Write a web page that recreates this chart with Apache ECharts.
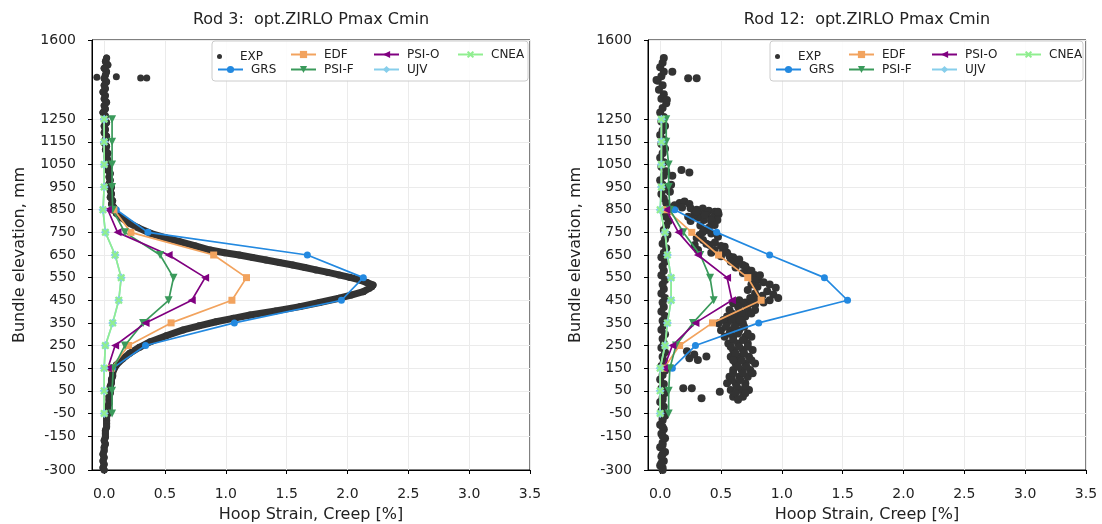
<!DOCTYPE html>
<html><head><meta charset="utf-8">
<script src="https://cdn.jsdelivr.net/npm/echarts@6/dist/echarts.min.js"></script>
<style>html,body{margin:0;padding:0;background:#fff}#c{width:1102px;height:524px}</style>
</head><body><div id="c"></div>
<script>
// ---------- DATA ----------
const titles = ['Rod 3:  opt.ZIRLO Pmax Cmin', 'Rod 12:  opt.ZIRLO Pmax Cmin'];
const xName = 'Hoop Strain, Creep [%]';
const yName = 'Bundle elevation, mm';
const xTicks = [0, 0.5, 1, 1.5, 2, 2.5, 3, 3.5];
const yTicks = [-300, -150, -50, 50, 150, 250, 350, 450, 550, 650, 750, 850, 950, 1050, 1150, 1250, 1600];
const seriesNames = ['EXP', 'GRS', 'EDF', 'PSI-F', 'PSI-O', 'UJV', 'CNEA'];

const fullElev = [-50, 50, 150, 250, 350, 450, 550, 650, 750, 850, 950, 1050, 1150, 1250];
const coreElev = [150, 250, 350, 450, 550, 650, 750, 850];

// Rod 3
const rod3GRS  = [0.07, 0.34, 1.07, 1.95, 2.13, 1.67, 0.36, 0.10];
const rod3EDF  = [0.06, 0.20, 0.55, 1.05, 1.17, 0.90, 0.22, 0.08];
const rod3PSIO = [0.03, 0.09, 0.34, 0.72, 0.83, 0.53, 0.11, 0.03];
const rod3PSIF = [0.065, 0.065, 0.075, 0.17, 0.32, 0.53, 0.57, 0.46, 0.17, 0.07, 0.065, 0.065, 0.065, 0.065];
const rod3UJV  = [0.0, 0.0, 0.0, 0.01, 0.07, 0.12, 0.14, 0.09, 0.01, -0.01, 0.0, 0.0, 0.0, 0.0];
const rod3CNEA = [0.0, 0.0, 0.0, 0.01, 0.07, 0.12, 0.14, 0.09, 0.01, -0.01, 0.0, 0.0, 0.0, 0.0];
const rod3ExpCurve = [
 [0.02,1520],[0.01,1505],[0.03,1490],[0.0,1475],[0.02,1460],[0.01,1445],[0.0,1430],[0.02,1415],[0.0,1400],[0.01,1385],
 [-0.01,1370],[0.01,1355],[0.0,1340],[0.02,1325],[0.0,1310],[0.01,1295],[-0.01,1280],[0.01,1265],[0.0,1250],[0.02,1235],
 [0.0,1220],[0.01,1205],[0.0,1190],[0.02,1175],[0.01,1160],[0.0,1145],[0.02,1130],[0.01,1115],[0.03,1100],[0.02,1085],
 [0.03,1070],[0.02,1055],[0.04,1040],[0.03,1025],[0.05,1010],[0.04,995],[0.05,980],[0.04,965],[0.06,950],[0.05,935],
 [0.06,920],[0.05,905],[0.07,890],[0.06,875],[0.08,860],[0.09,845],
 [0.10,834],[0.14,815],[0.21,790],[0.28,770],[0.38,746],[0.50,727],[0.62,709],[0.75,690],[0.87,672],[0.99,660],
 [1.11,650],[1.22,639],[1.33,628],[1.44,617],[1.55,606],[1.65,595],[1.74,584],[1.84,573],[1.93,562],[2.02,551],
 [2.10,540],[2.16,528],[2.21,517],
 [2.20,510],[2.18,503],[2.13,488],[2.03,473],[1.93,459],[1.77,440],[1.61,422],[1.41,403],[1.20,385],[1.06,370],
 [0.92,355],[0.78,337],[0.65,319],[0.51,293],[0.38,267],[0.29,242],[0.21,216],[0.15,190],[0.10,164],
 [0.08,145],[0.07,130],[0.07,115],[0.06,100],[0.06,85],[0.05,70],[0.05,55],[0.05,40],[0.04,25],[0.04,10],
 [0.04,-5],[0.03,-20],[0.03,-35],[0.03,-50],[0.02,-65],[0.02,-80],[0.02,-95],[0.02,-110],[0.01,-125],[0.01,-140],
 [0.01,-155],[0.0,-170],[0.01,-185],[0.0,-200],[0.0,-215],[-0.01,-230],[0.0,-245],[-0.01,-260],[0.0,-275],[-0.01,-290],[0.0,-300]
];
const rod3ExpStray = [[-0.06,1435],[0.10,1438],[0.30,1432],[0.35,1432]];

// Rod 12
const rod12GRS  = [0.10, 0.29, 0.81, 1.54, 1.35, 0.90, 0.465, 0.12];
const rod12EDF  = [0.03, 0.16, 0.43, 0.83, 0.72, 0.48, 0.26, 0.05];
const rod12PSIO = [0.03, 0.10, 0.29, 0.59, 0.55, 0.31, 0.15, 0.05];
const rod12PSIF = [0.07, 0.07, 0.08, 0.13, 0.27, 0.44, 0.41, 0.33, 0.19, 0.08, 0.07, 0.07, 0.05, 0.05];
const rod12UJV  = [0.0, 0.0, 0.0, 0.04, 0.06, 0.09, 0.09, 0.06, 0.04, 0.0, 0.01, 0.01, 0.01, 0.01];
const rod12CNEA = [0.0, 0.0, 0.0, 0.04, 0.06, 0.09, 0.09, 0.06, 0.04, 0.0, 0.01, 0.01, 0.01, 0.01];
const rod12Exp = [
 // near-zero column
 [0.02,-300],[0.0,-280],[0.03,-260],[0.01,-240],[0.04,-220],[0.0,-200],[0.02,-180],[0.04,-160],[0.01,-140],[0.03,-120],
 [0.0,-100],[0.02,-80],[0.04,-60],[0.01,-40],[0.03,-20],[0.0,0],[0.02,20],[0.04,40],[0.01,60],[0.03,80],
 [0.0,100],[0.02,120],[0.04,140],[0.01,160],[0.03,180],[0.02,200],[0.04,220],[0.01,240],[0.03,260],[0.02,280],
 [0.04,300],[0.01,320],[0.03,340],[0.02,360],[0.04,380],[0.01,400],[0.03,420],[0.02,440],[0.04,460],[0.01,480],
 [0.03,500],[0.02,520],[0.04,540],[0.01,560],[0.03,580],[0.02,600],[0.04,620],[0.01,640],[0.03,660],[0.05,680],
 [0.02,700],[0.04,720],[0.06,740],[0.03,760],[0.05,780],[0.07,800],[0.04,820],[0.06,840],[0.08,860],[0.05,880],
 [0.03,900],[0.01,920],[0.04,940],[0.02,960],[0.0,980],[0.03,1000],[0.05,1020],[0.01,1040],[0.03,1060],[0.0,1080],
 [0.02,1100],[0.04,1120],[0.01,1140],[0.03,1160],[0.0,1180],[0.02,1200],[0.04,1220],[0.01,1240],[0.03,1260],[0.0,1280],
 [0.02,1300],[0.05,1320],[0.01,1340],[0.03,1360],[-0.01,1380],[0.02,1400],[-0.02,1420],[0.01,1440],[0.03,1460],[0.0,1480],
 [0.02,1500],[0.03,1520],[0.09,960],[0.10,1000],[0.08,930],
 [0.02,-290],[0.01,-270],[0.02,-230],[0.02,-190],[0.02,-150],[0.02,-110],[0.02,-70],[0.02,-30],[0.02,10],[0.02,50],
 // isolated points
 [0.175,1026],[0.24,1014],[0.10,1460],[0.23,1431],[0.30,1431],[0.055,1335],[-0.03,1423],
 // upper cluster
 [0.16,880],[0.20,886],[0.24,875],[0.18,860],[0.25,857],[0.12,870],
 [0.30,850],[0.35,856],[0.40,845],[0.45,841],[0.48,830],[0.33,835],[0.38,827],[0.43,815],[0.47,805],[0.31,815],
 [0.36,805],[0.42,797],[0.28,830],
 [0.23,819],[0.298,841],[0.366,827],[0.42,805],[0.475,841],[0.448,783],[0.38,761],[0.325,738],[0.352,716],[0.407,694],
 [0.448,672],[0.516,665],[0.571,643],[0.626,620],[0.68,606],[0.72,584],[0.776,562],[0.80,540],[0.284,694],[0.311,672],
 [0.475,731],[0.53,687],
 [0.25,800],[0.33,780],[0.40,770],[0.35,750],[0.42,745],[0.30,725],[0.38,700],[0.45,705],[0.50,690],[0.42,660],
 [0.55,660],[0.60,640],[0.50,645],[0.65,630],[0.58,620],[0.70,600],[0.62,595],[0.75,580],[0.68,570],[0.82,560],
 [0.73,555],[0.78,540],
 // around peak
 [0.85,530],[0.90,520],[0.95,505],[0.80,510],[0.75,520],[0.88,490],[0.93,475],[0.97,460],[0.84,470],[0.78,480],
 [0.72,495],[0.90,450],[0.80,455],[0.74,460],[0.85,440],[0.70,440],[0.65,450],[0.78,430],
 // lower cluster
 [0.60,437],[0.68,437],[0.75,437],[0.57,407],[0.65,407],[0.72,407],[0.78,407],[0.55,378],[0.62,378],[0.70,378],
 [0.48,348],[0.55,348],[0.63,348],[0.68,348],[0.50,318],[0.58,318],[0.65,318],[0.53,289],[0.60,289],[0.70,289],
 [0.75,289],[0.56,259],[0.64,259],[0.72,259],[0.60,230],[0.68,230],[0.76,230],[0.58,200],[0.65,200],[0.73,200],
 [0.62,171],[0.70,171],[0.78,171],[0.60,142],[0.67,142],[0.74,142],[0.57,112],[0.65,112],[0.72,112],[0.55,83],
 [0.62,83],[0.70,83],[0.58,54],[0.66,54],[0.73,54],[0.60,24],[0.68,24],
 [0.64,422],[0.71,422],[0.59,392],[0.67,392],[0.75,392],[0.52,363],[0.59,363],[0.66,363],[0.54,333],[0.61,333],
 [0.69,333],[0.57,303],[0.64,303],[0.72,303],[0.60,274],[0.68,274],[0.58,245],[0.65,245],[0.72,245],[0.62,215],
 [0.69,215],[0.60,185],[0.67,185],[0.75,185],[0.64,156],[0.71,156],[0.60,127],[0.68,127],[0.76,127],[0.59,98],
 [0.66,98],[0.63,69],[0.70,69],[0.62,39],[0.70,39],[0.64,10],
 [0.49,46],[0.34,17],[0.19,61],[0.26,61],[0.24,194],[0.31,186],[0.38,201],[0.22,225],[0.28,210]
];

// ---------- STYLE ----------
const colors = {EXP:'#333333', GRS:'#2389e0', EDF:'#f2a35e', 'PSI-F':'#3a9a5b', 'PSI-O':'#800080', UJV:'#87ceeb', CNEA:'#90ee90'};
const xMark = 'path://M0,2L2,0L5,3L8,0L10,2L7,5L10,8L8,10L5,7L2,10L0,8L3,5Z';
const symbols = {GRS:['circle',7,0], EDF:['rect',7,0], 'PSI-F':['triangle',8,180], 'PSI-O':['triangle',8,90], UJV:['diamond',9,0], CNEA:[xMark,8,0]};
const font = 'DejaVu Sans';
const grids = [{left:92, top:40, width:438, height:430}, {left:648, top:40, width:438, height:430}];
const legendBoxes = [{x:212, y:41, w:316, h:40}, {x:770, y:41, w:313, h:40}];
const legendSlots = {EXP:[5,12], GRS:[5,27], EDF:[78,12], 'PSI-F':[78,27], 'PSI-O':[161,12], UJV:[161,27], CNEA:[245,12]};

const pairs = (xs, ys) => xs.map((x, i) => [x, ys[i]]);

const panels = [
  {expScatter: rod3ExpCurve.concat(rod3ExpStray), expLine: rod3ExpCurve, expSize: 7,
   models: {GRS:pairs(rod3GRS, coreElev), EDF:pairs(rod3EDF, coreElev), 'PSI-F':pairs(rod3PSIF, fullElev),
            'PSI-O':pairs(rod3PSIO, coreElev), UJV:pairs(rod3UJV, fullElev), CNEA:pairs(rod3CNEA, fullElev)}},
  {expScatter: rod12Exp, expLine: null, expSize: 8,
   models: {GRS:pairs(rod12GRS, coreElev), EDF:pairs(rod12EDF, coreElev), 'PSI-F':pairs(rod12PSIF, fullElev),
            'PSI-O':pairs(rod12PSIO, coreElev), UJV:pairs(rod12UJV, fullElev), CNEA:pairs(rod12CNEA, fullElev)}}
];

const option = {
  animation: false,
  backgroundColor: '#fff',
  textStyle: {fontFamily: font},
  title: [], grid: [], xAxis: [], yAxis: [], legend: [], series: [], graphic: []
};

panels.forEach((p, i) => {
  const g = grids[i];
  option.title.push({text: titles[i], left: g.left + g.width / 2, top: 12, padding: 0, textAlign: 'center',
    textStyle: {fontFamily: font, fontSize: 16, fontWeight: 'normal', color: '#222'}});
  option.grid.push({left: g.left, top: g.top, width: g.width, height: g.height, show: true,
    outerBoundsMode: 'none', containLabel: false,
    borderColor: '#000', borderWidth: 1, backgroundColor: '#fff'});
  option.xAxis.push({type: 'value', gridIndex: i, min: -0.1, max: 3.5,
    name: xName, nameLocation: 'middle', nameGap: 37,
    nameTextStyle: {fontFamily: font, fontSize: 16, color: '#222'},
    axisLine: {onZero: false, lineStyle: {color: '#000', width: 1}},
    axisTick: {customValues: xTicks, length: 4, lineStyle: {color: '#000'}},
    axisLabel: {customValues: xTicks, formatter: v => v.toFixed(1), fontFamily: font, fontSize: 14, color: '#222', margin: 17},
    splitLine: {show: true, lineStyle: {color: '#ebebeb', width: 1}}});
  option.yAxis.push({type: 'value', gridIndex: i, min: -300, max: 1600,
    name: yName, nameLocation: 'middle', nameGap: 64, nameRotate: 90,
    nameTextStyle: {fontFamily: font, fontSize: 16, color: '#222'},
    axisLine: {onZero: false, lineStyle: {color: '#000', width: 1}},
    axisTick: {customValues: yTicks, length: 4, lineStyle: {color: '#000'}},
    axisLabel: {customValues: yTicks, formatter: v => String(v), fontFamily: font, fontSize: 14, color: '#222', margin: 16},
    splitLine: {show: true, lineStyle: {color: '#ebebeb', width: 1}}});

  // EXP
  option.series.push({type: 'scatter', name: 'EXP', xAxisIndex: i, yAxisIndex: i, data: p.expScatter,
    symbol: 'circle', symbolSize: p.expSize, itemStyle: {color: colors.EXP, opacity: 1}, z: 1, silent: true});
  if (p.expLine) {
    option.series.push({type: 'line', name: 'EXP', xAxisIndex: i, yAxisIndex: i, data: p.expLine,
      symbol: 'none', lineStyle: {color: colors.EXP, width: 7, cap: 'round', join: 'round'}, z: 1, silent: true});
  }
  // Models
  ['GRS', 'EDF', 'PSI-F', 'PSI-O', 'UJV', 'CNEA'].forEach(n => {
    const s = symbols[n];
    option.series.push({type: 'line', name: n, xAxisIndex: i, yAxisIndex: i, data: p.models[n],
      symbol: s[0], symbolSize: s[1], symbolRotate: s[2], showSymbol: true,
      lineStyle: {color: colors[n], width: 1.7}, itemStyle: {color: colors[n]}, z: 3, silent: true});
  });

  // legend box + entries
  const b = legendBoxes[i];
  option.graphic.push({type: 'rect', shape: {x: b.x, y: b.y, width: b.w, height: b.h, r: 3},
    style: {fill: 'rgba(255,255,255,0.85)', stroke: '#cccccc', lineWidth: 1}, z: 3, silent: true});
  seriesNames.forEach(n => {
    const slot = legendSlots[n];
    const h = n === 'EXP' ? 5 : 9;
    option.legend.push({data: [n === 'EXP' ? {name: n, icon: 'circle'} : n], orient: 'horizontal',
      left: b.x + slot[0], top: b.y + slot[1] - h / 2, padding: 0, itemGap: 0,
      itemWidth: 25, itemHeight: h, z: 5,
      textStyle: {fontFamily: font, fontSize: 12, color: '#222', padding: [0, 0, 0, 3]}});
  });
});

const chart = echarts.init(document.getElementById('c'), null, {renderer: 'canvas'});
chart.setOption(option);
</script>
</body></html>
